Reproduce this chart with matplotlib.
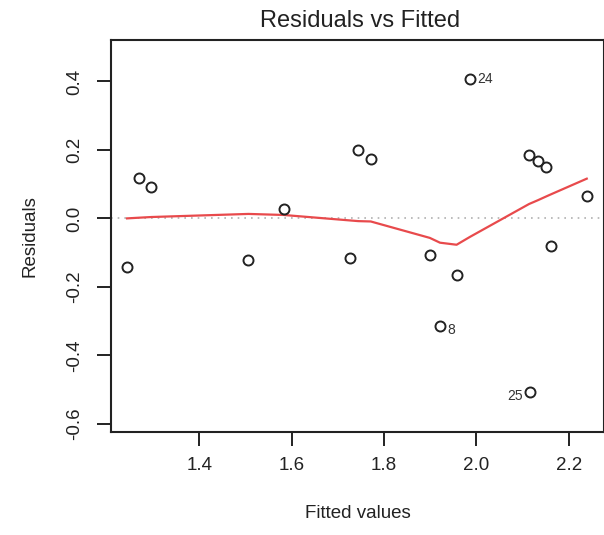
import matplotlib
matplotlib.use('Agg')
import matplotlib.pyplot as plt

# Valores (ajustados vs resíduos)
fitted = [1.243, 1.269, 1.296, 1.506, 1.582, 1.726, 1.744, 1.771, 1.899,
          1.921, 1.957, 1.986, 2.116, 2.114, 2.133, 2.151, 2.161, 2.239]
residuals = [-0.143, 0.117, 0.091, -0.121, 0.028, -0.117, 0.200, 0.173, -0.107,
             -0.315, -0.166, 0.407, -0.507, 0.185, 0.169, 0.149, -0.082, 0.064]

# Curva suavizada (lowess) em vermelho
smooth_x = [1.243, 1.269, 1.296, 1.506, 1.582, 1.726, 1.744, 1.771, 1.899,
            1.921, 1.957, 1.986, 2.114, 2.133, 2.151, 2.161, 2.239]
smooth_y = [0.000, 0.002, 0.004, 0.013, 0.010, -0.006, -0.008, -0.009, -0.057,
            -0.071, -0.077, -0.054, 0.042, 0.053, 0.064, 0.070, 0.116]

# Pontos identificados
ids = ['24', '8', '25']
id_x = [1.986, 1.921, 2.116]
id_y = [0.407, -0.315, -0.507]

xticks = [1.4, 1.6, 1.8, 2.0, 2.2]
yticks = [-0.6, -0.4, -0.2, 0.0, 0.2, 0.4]

plt.rcParams['font.family'] = ['Liberation Sans', 'DejaVu Sans']
plt.rcParams['axes.unicode_minus'] = False

fig = plt.figure(figsize=(6.04, 5.35), dpi=100)
ax = fig.add_axes([0.1838, 0.1925, 0.817, 0.7327])

ax.axhline(0, color='#b0b0b0', linestyle=(0, (1, 3)), linewidth=1.2, zorder=1)
ax.plot(smooth_x, smooth_y, color='#e84a4c', linewidth=1.6, zorder=2)
ax.plot(fitted, residuals, 'o', markerfacecolor='none', markeredgecolor='#222222',
        markersize=7.2, markeredgewidth=1.4, zorder=3)

ax.annotate(ids[0], (id_x[0], id_y[0]), xytext=(5, 0), textcoords='offset points',
            ha='left', va='center', fontsize=10, color='#333333')
ax.annotate(ids[1], (id_x[1], id_y[1]), xytext=(5, -3), textcoords='offset points',
            ha='left', va='center', fontsize=10, color='#333333')
ax.annotate(ids[2], (id_x[2], id_y[2]), xytext=(-5, -3), textcoords='offset points',
            ha='right', va='center', fontsize=10, color='#333333')

ax.set_xlim(1.2083, 2.2774)
ax.set_ylim(-0.624, 0.521)
ax.set_xticks(xticks)
ax.set_xticklabels(['%.1f' % v for v in xticks])
ax.set_yticks(yticks)
ax.set_yticklabels(['%.1f' % v for v in yticks], rotation=90, va='center')

ax.tick_params(direction='out', length=10, width=1.4, labelsize=13.5,
               colors='#222222', pad=8)
ax.tick_params(axis='y', pad=10)
for s in ax.spines.values():
    s.set_linewidth(1.5)
    s.set_color('#222222')

ax.set_xlabel('Fitted values', fontsize=13.5, labelpad=22, color='#222222')
ax.set_ylabel('Residuals', fontsize=13.5, labelpad=20, color='#222222')
fig.text(0.596, 0.96, 'Residuals vs Fitted', ha='center', va='center',
         fontsize=17, color='#222222')

plt.savefig('out.png', dpi=100)
